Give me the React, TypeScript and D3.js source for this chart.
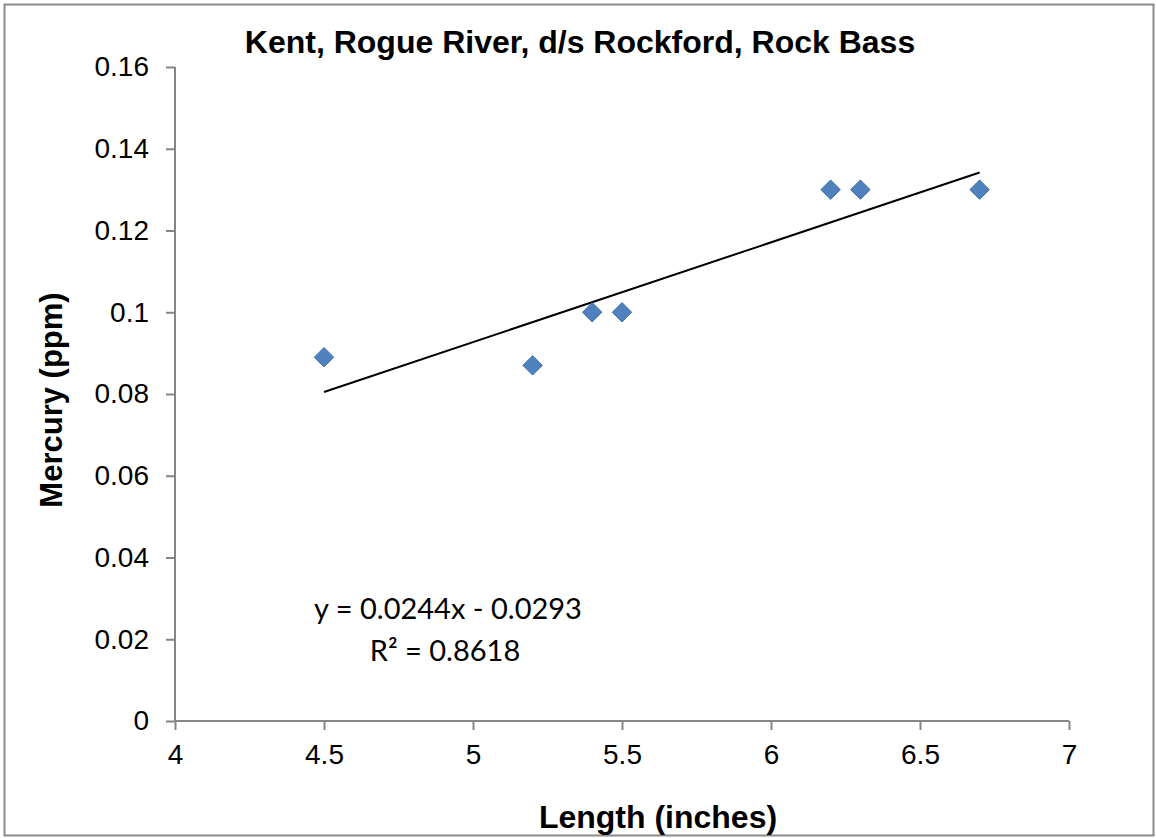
import React, { useEffect, useRef } from 'react';
import * as d3 from 'd3';

// fish samples: length (inches) vs mercury (ppm)
const lengths = [4.5, 5.2, 5.4, 5.5, 6.2, 6.3, 6.7];
const mercury = [0.089, 0.087, 0.1, 0.1, 0.13, 0.13, 0.13];
const slope = 0.0244;
const intercept = -0.0293;
const xTicks = [4, 4.5, 5, 5.5, 6, 6.5, 7];
const yTicks = [0, 0.02, 0.04, 0.06, 0.08, 0.1, 0.12, 0.14, 0.16];
const title = 'Kent, Rogue River, d/s Rockford, Rock Bass';
const eqText = 'y = 0.0244x - 0.0293';
const r2Text = 'R² = 0.8618';

const W = 1156;
const H = 838;
const margin = { top: 67, right: 87, bottom: 117, left: 175 };

export default function App() {
  const ref = useRef<SVGSVGElement>(null);

  useEffect(() => {
    document.body.style.margin = '0';
    const svg = d3.select(ref.current);
    svg.selectAll('*').remove();

    const x = d3.scaleLinear().domain([4, 7]).range([margin.left, W - margin.right]);
    const y = d3.scaleLinear().domain([0, 0.16]).range([H - margin.bottom, margin.top]);

    // outer frame
    svg.append('rect')
      .attr('x', 4.5).attr('y', 4.5)
      .attr('width', W - 2.5 - 4.5).attr('height', H - 2.5 - 4.5)
      .attr('fill', '#fff').attr('stroke', '#8a8a8a').attr('stroke-width', 2);

    const fmt = (d: number) => String(+d.toFixed(2));

    // axes
    const yAxis = d3.axisLeft(y).tickValues(yTicks).tickSize(9).tickPadding(17).tickFormat(fmt as any);
    const xAxis = d3.axisBottom(x).tickValues(xTicks).tickSize(9).tickPadding(14).tickFormat(fmt as any);

    const gy = svg.append('g').attr('transform', `translate(${margin.left},0)`).call(yAxis);
    const gx = svg.append('g').attr('transform', `translate(0,${H - margin.bottom})`).call(xAxis);
    [gx, gy].forEach((g) => {
      g.selectAll('line').attr('stroke', '#868686').attr('stroke-width', 2);
      g.select('.domain').remove();
      g.selectAll('text')
        .attr('fill', '#000')
        .style('font-family', '"Liberation Sans", Arial, sans-serif')
        .style('font-size', '28px');
    });
    svg.append('line')
      .attr('x1', margin.left).attr('x2', margin.left)
      .attr('y1', y(0.16)).attr('y2', y(0))
      .attr('stroke', '#868686').attr('stroke-width', 2);
    svg.append('line')
      .attr('x1', x(4)).attr('x2', x(7))
      .attr('y1', y(0)).attr('y2', y(0))
      .attr('stroke', '#868686').attr('stroke-width', 2);

    // trend line
    const xs = d3.extent(lengths) as [number, number];
    const line = d3.line<number>().x((d) => x(d)).y((d) => y(slope * d + intercept));
    svg.append('path').datum(xs).attr('d', line).attr('fill', 'none').attr('stroke', '#000').attr('stroke-width', 2);

    // markers
    const diamond = d3.symbol().type(d3.symbolDiamond2).size(240);
    svg.append('g').selectAll('path').data(lengths).join('path')
      .attr('d', diamond as any)
      .attr('transform', (d, i) => `translate(${x(d)},${y(mercury[i])})`)
      .attr('fill', '#4F81BD').attr('stroke', '#3f6fa8').attr('stroke-width', 1);

    // titles
    const bold = (t: any) => t
      .attr('fill', '#000')
      .style('font-family', '"Liberation Sans", Arial, sans-serif')
      .style('font-weight', 'bold')
      .attr('text-anchor', 'middle');
    bold(svg.append('text').attr('x', 580).attr('y', 53).style('font-size', '32px').text(title));
    bold(svg.append('text').attr('x', 658).attr('y', 828).style('font-size', '32px').text('Length (inches)'));
    bold(svg.append('text').attr('transform', 'translate(62,400) rotate(-90)').style('font-size', '31px').text('Mercury (ppm)'));

    // regression label
    const eq = svg.append('g').style('font-family', 'Lato, Carlito, Calibri, sans-serif').style('font-size', '29px').attr('fill', '#000');
    eq.append('text').attr('x', 448).attr('y', 619).attr('text-anchor', 'middle').text(eqText);
    eq.append('text').attr('x', 445).attr('y', 661).attr('text-anchor', 'middle').text(r2Text);
  }, []);

  return <svg ref={ref} width={W} height={H} style={{ display: 'block' }} />;
}
